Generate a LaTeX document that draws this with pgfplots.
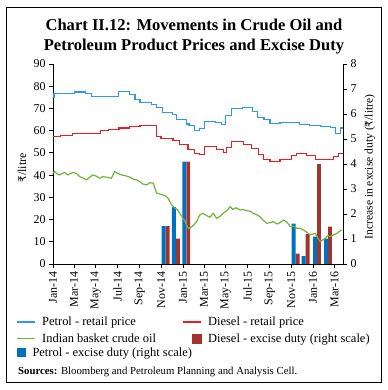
\documentclass[border=0pt]{standalone}
\usepackage{fontspec}
\setmainfont{Liberation Serif}
\newfontfamily\rupeefont{DejaVu Sans}
\newcommand{\rupee}{{\rupeefont\fontsize{10.5}{12}\selectfont ₹}}
\usepackage{pgfplots}
\pgfplotsset{compat=1.18}
\definecolor{petrolline}{RGB}{45,150,250}
\definecolor{dieselline}{RGB}{237,28,36}
\definecolor{crudeline}{RGB}{115,178,62}
\definecolor{petrolbar}{RGB}{0,112,192}
\definecolor{dieselbar}{RGB}{162,52,46}

\begin{document}
\begin{tikzpicture}[x=1bp,y=1bp]
% ---------- right scale: excise duty bars ----------
\begin{axis}[
  scale only axis, width=290bp, height=200bp, at={(53bp,126bp)}, anchor=south west,
  xmin=0, xmax=814, ymin=0, ymax=8, enlargelimits=false,
  axis x line=none, axis y line*=right,
  tick align=outside, major tick length=4bp,
  axis line style={line width=0.8bp}, tick style={black, line width=0.8bp},
  ytick={0,1,...,8},
  tick label style={font=\fontsize{12}{14}\selectfont},
  /pgf/number format/assume math mode=true,
  ylabel={Increase in excise duty (\rupee/litre)},
  ylabel style={at={(axis description cs:1.093,0.485)}, anchor=center, font=\fontsize{11.6}{14}\selectfont},
  ybar, bar width=11,
  legend style={draw=none, fill=none, at={(axis description cs:-0.124,-0.4425)}, anchor=west,
    inner sep=0pt, outer sep=0pt, font=\fontsize{12.5}{14}\selectfont},
  legend cell align=left,
]
\addplot[fill=dieselbar, draw=none, bar shift=5.6, forget plot] coordinates {
 (316,1.52) (345,1.02) (374,4.1) (681,0.42) (709,1.2) (741,4.0) (772,1.5)};
\addplot[fill=petrolbar, draw=none, bar shift=-5.6,
  legend image code/.code={\fill[petrolbar] (9.5bp,-4.5bp) rectangle (18.7bp,4.5bp); \path (23bp,0);}] coordinates {
 (316,1.52) (345,2.28) (374,4.1) (681,1.62) (709,0.32) (741,1.1) (772,1.02)};
\addlegendentry{Petrol - excise duty (right scale)}
\end{axis}
% ---------- left scale: prices ----------
\begin{axis}[
  scale only axis, width=290bp, height=200bp, at={(53bp,126bp)}, anchor=south west,
  xmin=0, xmax=814, ymin=0, ymax=90, enlargelimits=false,
  axis x line*=bottom, axis y line*=left,
  tick align=outside, major tick length=4bp,
  axis line style={line width=0.8bp}, tick style={black, line width=0.8bp},
  xtick={0,59,120,181,243,304,365,424,485,546,608,669,730,790},
  xticklabels={Jan-14,Mar-14,May-14,Jul-14,Sep-14,Nov-14,Jan-15,Mar-15,May-15,Jul-15,Sep-15,Nov-15,Jan-16,Mar-16},
  xticklabel style={rotate=90, anchor=east},
  ytick={0,10,...,90},
  tick label style={font=\fontsize{12}{14}\selectfont},
  /pgf/number format/assume math mode=true,
  ylabel={\rupee/litre},
  ylabel style={at={(axis description cs:-0.107,0.48)}, anchor=center, font=\fontsize{12}{14}\selectfont},
  legend style={draw=none, fill=none, at={(axis description cs:-0.1276,-0.255)}, anchor=north west,
    inner sep=0pt, outer sep=0pt, font=\fontsize{12.5}{14}\selectfont, legend columns=2,
    /tikz/every even column/.append style={column sep=24bp}, row sep=2.5bp},
  legend cell align=left,
  legend image code/.code={\draw[#1] (0bp,0bp) -- (18bp,0bp); \path (23bp,0);},
]
\addplot[petrolline, line width=1.2bp, const plot mark left] coordinates {
 (0,75.0) (3,76.6) (61,77.4) (92,76.6) (108,75.4) (183,77.5) (214,76.4) (230,74.0)
 (244,72.7) (277,71.6) (291,70.4) (308,68.3) (336,67.1) (347,65.1) (375,63.0) (382,62.3)
 (398,60.0) (412,60.8) (426,64.1) (457,63.7) (474,62.9) (485,66.8) (502,69.8) (533,70.5)
 (561,68.6) (575,66.1) (592,64.9) (609,63.1) (637,63.7) (668,63.5) (693,62.9) (721,62.2)
 (750,62.0) (778,61.6) (792,58.9) (806,61.2) (814,61.2)};
\addlegendentry{Petrol - retail price}
\addplot[dieselline, line width=1.2bp, const plot mark left] coordinates {
 (0,57.2) (20,58.0) (55,58.9) (134,59.9) (155,60.7) (185,61.2) (215,61.9) (244,62.4)
 (291,57.5) (303,56.3) (337,55.6) (356,53.6) (379,51.4) (398,49.6) (412,49.1) (426,52.9)
 (459,51.7) (478,50.2) (487,52.6) (501,55.1) (534,53.6) (558,52.1) (576,49.1) (590,46.9)
 (609,46.1) (637,47.2) (670,48.7) (684,49.6) (712,48.7) (736,46.9) (769,47.2) (787,48.4)
 (801,49.9) (814,49.9)};
\addlegendentry{Diesel - retail price}
\addplot[crudeline, line width=1.2bp] coordinates {
 (0,41.0) (5,41.6) (12,40.5) (19,40.1) (26,40.8) (33,41.1) (42,40.1) (50,40.8) (56,41.2)
 (66,40.7) (75,39.3) (83,38.8) (94,37.9) (103,39.0) (112,40.1) (122,39.5) (131,38.6)
 (140,39.3) (150,39.1) (157,38.8) (164,38.6) (173,41.6) (182,40.8) (192,40.1) (202,39.8)
 (211,39.3) (218,39.0) (225,38.2) (235,37.8) (244,37.1) (252,36.0) (263,35.6) (272,36.6)
 (281,36.4) (291,31.9) (300,31.5) (309,31.1) (317,30.5) (323,29.6) (333,26.6) (342,25.1)
 (349,24.5) (356,22.8) (365,20.5) (370,19.5) (375,17.6) (380,16.1) (384,16.3) (390,16.8)
 (395,17.5) (403,19.1) (412,22.1) (421,22.8) (429,22.0) (440,21.0) (450,22.8) (459,20.6)
 (469,21.5) (478,22.8) (488,24.0) (497,25.8) (505,24.6) (514,25.3) (525,24.3) (533,24.5)
 (544,24.0) (553,23.8) (562,22.8) (573,22.1) (581,21.3) (589,19.8) (600,18.3) (609,18.6)
 (618,19.1) (629,18.0) (637,18.6) (647,19.8) (657,18.8) (666,16.8) (674,17.1) (684,16.1)
 (693,16.1) (703,15.3) (710,14.6) (721,13.1) (730,13.5) (736,13.8) (744,11.5) (750,10.0)
 (757,10.8) (764,11.6) (772,12.8) (778,12.3) (786,13.0) (797,13.8) (803,14.6) (811,15.3)};
\addlegendentry{Indian basket crude oil}
\addlegendimage{legend image code/.code={\fill[dieselbar] (9.5bp,-4.5bp) rectangle (18.7bp,4.5bp); \path (23bp,0);}}
\addlegendentry{Diesel - excise duty (right scale)}
\end{axis}
% ---------- title, source, frame ----------
\node[anchor=base, font=\bfseries\fontsize{16.6}{18}\selectfont] at (194,360) {Chart II.12: Movements in Crude Oil and};
\node[anchor=base, font=\bfseries\fontsize{16.6}{18}\selectfont] at (194,340) {Petroleum Product Prices and Excise Duty};
\node[anchor=base west, font=\fontsize{10.8}{12}\selectfont, inner sep=0pt] at (18,16) {\textbf{Sources:} Bloomberg and Petroleum Planning and Analysis Cell.};
\draw[line width=1bp] (6,8) rectangle (381.5,382.5);
\pgfresetboundingbox
\path[use as bounding box] (0,0) rectangle (388,390);
\end{tikzpicture}
\end{document}
